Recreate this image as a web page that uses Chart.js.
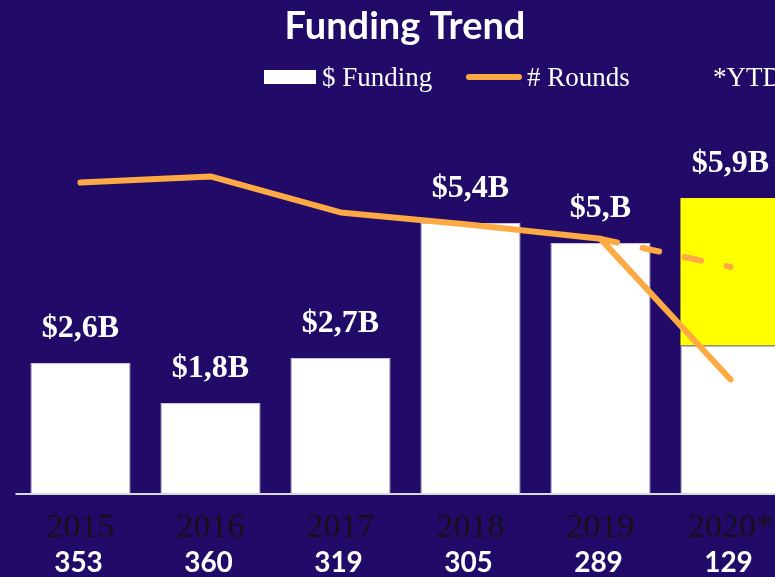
<!DOCTYPE html>
<html>
<head>
<meta charset="utf-8">
<script src="https://cdn.jsdelivr.net/npm/chart.js@4/dist/chart.umd.min.js"></script>
<style>
  html, body { margin: 0; padding: 0; background: #220a68; overflow: hidden; }
  #wrap { width: 800px; height: 577px; }
</style>
</head>
<body>
<div id="wrap"><canvas id="c" width="800" height="577"></canvas></div>
<script>
// ---- data ----
const years = ["2015", "2016", "2017", "2018", "2019", "2020*"];
const funding = [2.6, 1.8, 2.7, 5.4, 5.0, 2.95];          // $B, white bars
const fundingYTDExtra = [null, null, null, null, null, 2.95]; // yellow part of 2020
const fundingLabels = ["$2,6B", "$1,8B", "$2,7B", "$5,4B", "$5,B", "$5,9B"];
const rounds = [353, 360, 319, 305, 289, 129];
const roundsProjected = [null, null, null, null, 289, 257];

const BG = '#220a68';
const ORANGE = '#fdaa44';

const overlay = {
  id: 'overlay',
  beforeDraw(chart) {
    const ctx = chart.ctx;
    ctx.save();
    ctx.fillStyle = BG;
    ctx.fillRect(0, 0, chart.width, chart.height);
    ctx.restore();
  },
  afterDatasetsDraw(chart) {
    const ctx = chart.ctx;
    const x = chart.scales.x, y = chart.scales.y;
    const area = chart.chartArea;
    ctx.save();
    // baseline
    ctx.strokeStyle = '#d9d9d9';
    ctx.lineWidth = 2;
    ctx.beginPath();
    ctx.moveTo(area.left, area.bottom + 1);
    ctx.lineTo(area.right, area.bottom + 1);
    ctx.stroke();

    // value labels above bars
    ctx.fillStyle = '#ffffff';
    ctx.textAlign = 'center';
    ctx.textBaseline = 'alphabetic';
    ctx.font = 'bold 32px "Liberation Serif"';
    years.forEach((yr, i) => {
      const total = (funding[i] || 0) + (fundingYTDExtra[i] || 0);
      const px = x.getPixelForValue(i);
      const py = y.getPixelForValue(total);
      ctx.fillText(fundingLabels[i], px, py - 26);
    });

    // year labels
    ctx.fillStyle = '#141218';
    ctx.font = '34px "Liberation Serif"';
    years.forEach((yr, i) => {
      ctx.fillText(yr, x.getPixelForValue(i), 537);
    });

    // rounds counts
    ctx.fillStyle = '#ffffff';
    ctx.font = 'bold 28px Lato';
    rounds.forEach((r, i) => {
      ctx.fillText(String(r), x.getPixelForValue(i) - 2, 572);
    });

    // title
    ctx.font = 'bold 38px Lato';
    ctx.fillText('Funding Trend', 405, 39);

    // legend
    ctx.textAlign = 'left';
    ctx.fillStyle = '#ffffff';
    ctx.fillRect(264, 70, 52, 14);
    ctx.font = '27px "Liberation Serif"';
    ctx.fillText('$ Funding', 322, 86);
    ctx.strokeStyle = ORANGE;
    ctx.lineWidth = 6;
    ctx.lineCap = 'round';
    ctx.beginPath();
    ctx.moveTo(469, 77);
    ctx.lineTo(519, 77);
    ctx.stroke();
    ctx.fillText('# Rounds', 527, 86);
    ctx.fillText('*YTD', 713, 86);
    ctx.restore();
  }
};

new Chart(document.getElementById('c'), {
  type: 'bar',
  data: {
    labels: years,
    datasets: [
      {
        label: '# Rounds',
        type: 'line',
        data: rounds,
        yAxisID: 'y1',
        borderColor: ORANGE,
        borderWidth: 6,
        borderCapStyle: 'round',
        borderJoinStyle: 'round',
        pointRadius: 0,
        tension: 0,
        order: 0
      },
      {
        label: '# Rounds (projected)',
        type: 'line',
        data: roundsProjected,
        yAxisID: 'y1',
        borderColor: ORANGE,
        borderWidth: 6,
        borderCapStyle: 'round',
        borderDash: [17, 26],
        pointRadius: 0,
        tension: 0,
        spanGaps: false,
        order: 0
      },
      {
        label: '$ Funding',
        data: funding,
        yAxisID: 'y',
        stack: 's',
        backgroundColor: '#ffffff',
        borderColor: '#c9c3e0',
        borderWidth: 1,
        categoryPercentage: 1,
        barPercentage: 0.77,
        order: 1
      },
      {
        label: 'YTD',
        data: fundingYTDExtra,
        yAxisID: 'y',
        stack: 's',
        backgroundColor: '#ffff00',
        borderWidth: 0,
        categoryPercentage: 1,
        barPercentage: 0.77,
        order: 1
      }
    ]
  },
  options: {
    responsive: false,
    animation: false,
    devicePixelRatio: 1,
    layout: { padding: { left: 15.5, right: 4.5, top: 143, bottom: 84 } },
    plugins: { legend: { display: false }, tooltip: { enabled: false }, title: { display: false } },
    scales: {
      x: { display: false, stacked: true },
      y: { display: false, stacked: true, min: 0, max: 7 },
      y1: { display: false, min: 0, max: 398 }
    }
  },
  plugins: [overlay]
});
</script>
</body>
</html>
